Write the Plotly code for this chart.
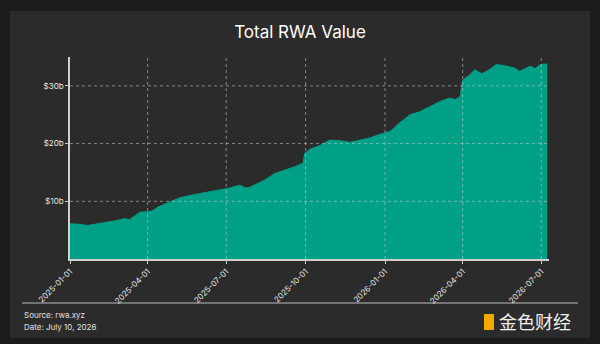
import plotly.graph_objects as go

dates = ["2025-01-01","2025-01-13","2025-01-21","2025-01-30","2025-02-05","2025-02-14","2025-02-22",
         "2025-02-28","2025-03-05","2025-03-11","2025-03-17","2025-03-23","2025-04-01","2025-04-06",
         "2025-04-13","2025-04-21","2025-04-29","2025-05-08","2025-05-20","2025-05-31","2025-06-12",
         "2025-06-24","2025-07-05","2025-07-17","2025-07-23","2025-07-28","2025-08-03","2025-08-15",
         "2025-08-26","2025-09-07","2025-09-19","2025-09-28","2025-09-30","2025-10-06","2025-10-18",
         "2025-10-29","2025-11-10","2025-11-21","2025-12-03","2025-12-15","2025-12-26","2026-01-07",
         "2026-01-18","2026-01-30","2026-02-10","2026-02-22","2026-03-06","2026-03-17","2026-03-23",
         "2026-03-29","2026-04-01","2026-04-09","2026-04-15","2026-04-23","2026-05-02","2026-05-10",
         "2026-05-19","2026-05-31","2026-06-06","2026-06-18","2026-06-24","2026-06-30","2026-07-08"]
values = [6.1,6.0,5.8,6.0,6.2,6.3,6.6,
          6.8,7.0,6.8,7.4,8.1,8.2,8.3,
          9.0,9.5,9.9,10.6,11.0,11.3,11.7,
          12.0,12.3,12.8,12.3,12.4,12.8,13.7,
          14.8,15.4,16.0,16.6,18.3,19.0,19.7,
          20.6,20.5,20.2,20.6,21.0,21.6,22.1,
          23.6,25.0,25.5,26.4,27.3,27.9,27.6,
          28.1,31.0,31.9,32.8,32.1,32.8,33.7,
          33.5,33.1,32.5,33.4,33.0,33.7,33.8]

tick_dates = ["2025-01-01","2025-04-01","2025-07-01","2025-10-01","2026-01-01","2026-04-01","2026-07-01"]
y_ticks = [10, 20, 30]
y_labels = ["$10b", "$20b", "$30b"]

title = "Total RWA Value"
source = "Source: rwa.xyz"
date_note = "Date: July 10, 2026"

font = "Inter, Roboto, sans-serif"
teal = "#00a086"
grid = "rgba(210,210,210,0.55)"

fig = go.Figure()
fig.add_trace(go.Scatter(x=dates, y=values, mode="lines", fill="tozeroy",
                         line=dict(color=teal, width=1), fillcolor=teal,
                         hoverinfo="skip"))

fig.update_layout(
    width=600, height=344,
    paper_bgcolor="#1c1c1c", plot_bgcolor="rgba(0,0,0,0)",
    margin=dict(l=70, r=51, t=57, b=85),
    showlegend=False,
    title=dict(text=title, x=0.5, xanchor="center", y=1 - 32/344, yanchor="middle",
               font=dict(family=font, size=17, color="#ffffff")),
    xaxis=dict(type="date", range=["2025-01-01", "2026-07-10"],
               tickvals=tick_dates, ticktext=tick_dates, tickangle=-45,
               tickfont=dict(family=font, size=8, color="#e8e8e8"),
               showgrid=False,
               showline=True, linecolor="#cfcfcf", linewidth=1.5,
               ticks="outside", ticklen=3, tickcolor="#cfcfcf", zeroline=False, layer="above traces"),
    yaxis=dict(range=[0, 35], tickvals=y_ticks, ticktext=y_labels,
               tickfont=dict(family=font, size=8, color="#e8e8e8"),
               showgrid=False,
               showline=True, linecolor="#cfcfcf", linewidth=1.5,
               ticks="outside", ticklen=3, tickcolor="#cfcfcf", zeroline=False, layer="above traces"),
)

# dotted grid drawn above the area, from the tick lists
for d in tick_dates[1:]:
    fig.add_shape(type="line", xref="x", yref="paper", x0=d, x1=d, y0=0, y1=1,
                  layer="above", line=dict(color=grid, width=1, dash="dot"))
for v in y_ticks:
    fig.add_shape(type="line", xref="paper", yref="y", x0=0, x1=1, y0=v, y1=v,
                  layer="above", line=dict(color=grid, width=1, dash="dot"))

fig.add_shape(type="rect", xref="paper", yref="paper", layer="below",
              x0=-60/479, x1=(590-70)/479, y0=-(338-259)/202, y1=1+(57-11)/202,
              fillcolor="#2b2b2b", line=dict(width=0))
fig.add_shape(type="line", xref="paper", yref="paper",
              x0=(22-70)/479, x1=(578-70)/479, y0=-(303-259)/202, y1=-(303-259)/202,
              line=dict(color="#bdbdbd", width=1))
fig.add_annotation(xref="paper", yref="paper", x=(22-70)/479, y=-(315-259)/202,
                   text=source, showarrow=False, xanchor="left", yanchor="middle",
                   font=dict(family=font, size=8, color="#e0e0e0"))
fig.add_annotation(xref="paper", yref="paper", x=(22-70)/479, y=-(327-259)/202,
                   text=date_note, showarrow=False, xanchor="left", yanchor="middle",
                   font=dict(family=font, size=8, color="#e0e0e0"))
fig.add_shape(type="rect", xref="paper", yref="paper",
              x0=(484-70)/479, x1=(494-70)/479, y0=-(330-259)/202, y1=-(314-259)/202,
              fillcolor="#f2a900", line=dict(width=0))
fig.add_annotation(xref="paper", yref="paper", x=(497-70)/479, y=-(321-259)/202,
                   text="金色财经", showarrow=False, xanchor="left", yanchor="middle",
                   font=dict(family="Noto Sans CJK SC", size=18, color="#f0f0f0"))

fig.write_html("out.html")
